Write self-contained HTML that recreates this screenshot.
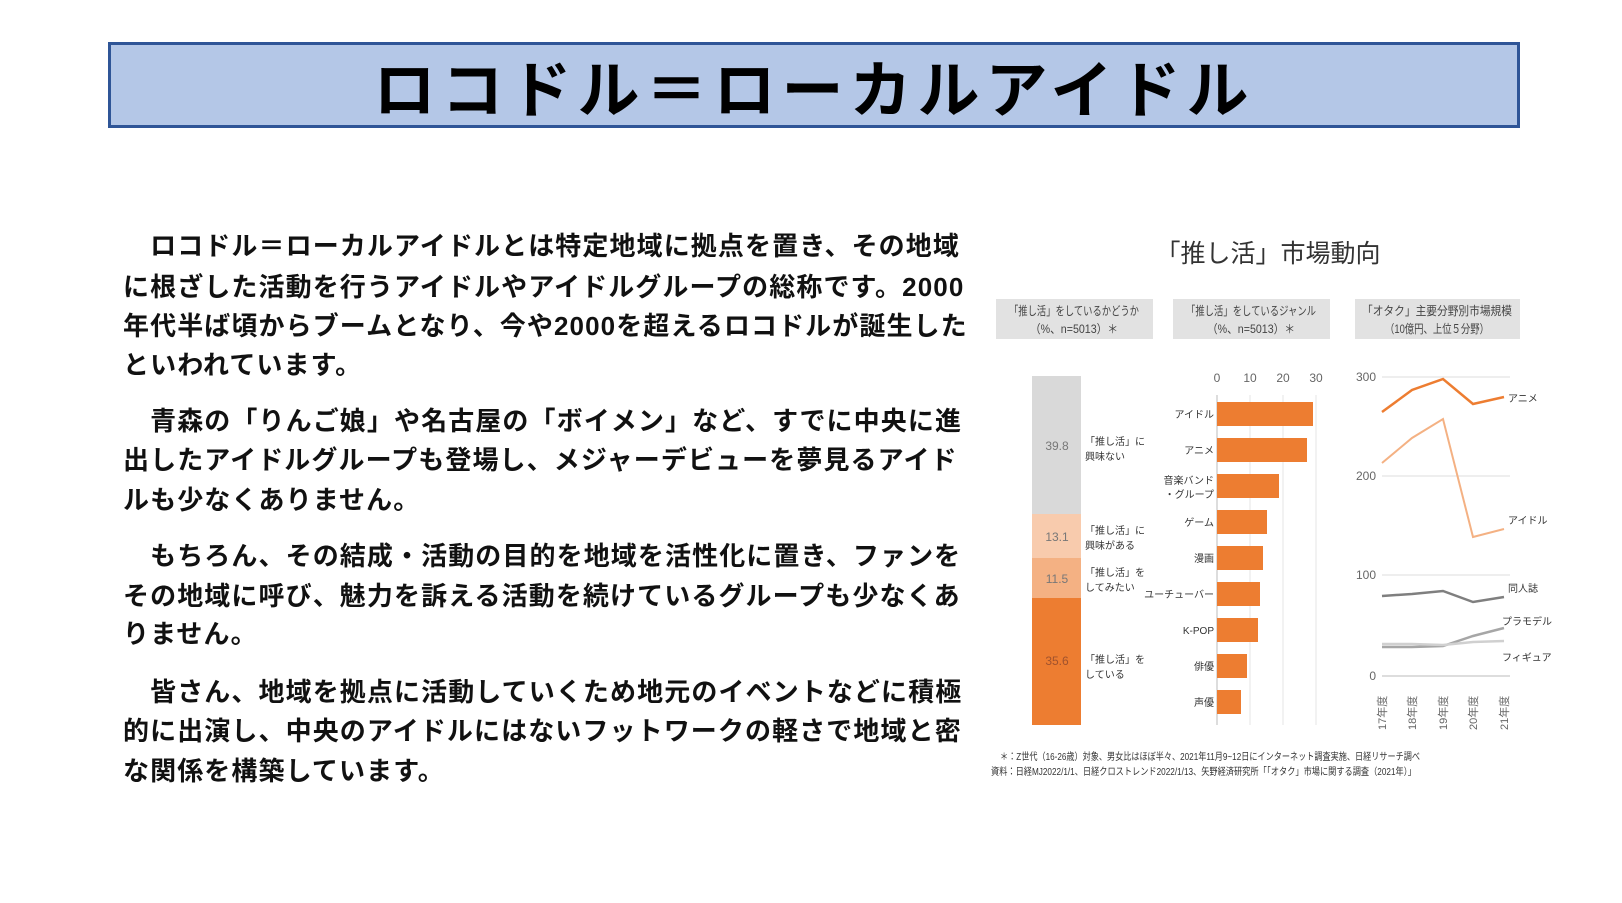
<!DOCTYPE html>
<html><head><meta charset="utf-8"><style>
body{margin:0;width:1622px;height:903px;background:#fff;overflow:hidden;position:relative;font-family:"Liberation Sans","Noto Sans CJK JP",sans-serif}
.tb{position:absolute;left:108px;top:42px;width:1412px;height:86px;background:#b4c7e7;border:3px solid #2f5597;box-sizing:border-box;display:flex;align-items:center;justify-content:center;font-size:62px;font-weight:bold;letter-spacing:6px;color:#000}
.ln{position:absolute;left:123px;font-size:26px;font-weight:bold;letter-spacing:1.1px;white-space:nowrap;line-height:30px;color:#111}
svg{position:absolute;left:0;top:0}
</style></head><body>
<div class="tb">ロコドル＝ローカルアイドル</div>
<div class="ln" style="top:231px">　ロコドル＝ローカルアイドルとは特定地域に拠点を置き、その地域</div>
<div class="ln" style="top:272px">に根ざした活動を行うアイドルやアイドルグループの総称です。2000</div>
<div class="ln" style="top:311px">年代半ば頃からブームとなり、今や2000を超えるロコドルが誕生した</div>
<div class="ln" style="top:350px">といわれています。</div>
<div class="ln" style="top:406px">　青森の「りんご娘」や名古屋の「ボイメン」など、すでに中央に進</div>
<div class="ln" style="top:445px">出したアイドルグループも登場し、メジャーデビューを夢見るアイド</div>
<div class="ln" style="top:485px">ルも少なくありません。</div>
<div class="ln" style="top:541px">　もちろん、その結成・活動の目的を地域を活性化に置き、ファンを</div>
<div class="ln" style="top:581px">その地域に呼び、魅力を訴える活動を続けているグループも少なくあ</div>
<div class="ln" style="top:619px">りません。</div>
<div class="ln" style="top:677px">　皆さん、地域を拠点に活動していくため地元のイベントなどに積極</div>
<div class="ln" style="top:716px">的に出演し、中央のアイドルにはないフットワークの軽さで地域と密</div>
<div class="ln" style="top:756px">な関係を構築しています。</div>
<svg width="1622" height="903" font-family="Liberation Sans, Noto Sans CJK JP, sans-serif">
<text x="1268" y="262" font-size="25" text-anchor="middle" fill="#333">「推し活」市場動向</text>
<rect x="996" y="299" width="157" height="40" fill="#e2e2e2"/>
<rect x="1173" y="299" width="157" height="40" fill="#e2e2e2"/>
<rect x="1355" y="299" width="165" height="40" fill="#e2e2e2"/>
<g font-size="12" fill="#444" text-anchor="middle">
<text x="1074" y="315" textLength="130" lengthAdjust="spacingAndGlyphs">「推し活」をしているかどうか</text><text x="1074" y="333" textLength="88" lengthAdjust="spacingAndGlyphs">（%、n=5013）＊</text>
<text x="1251" y="315" textLength="130" lengthAdjust="spacingAndGlyphs">「推し活」をしているジャンル</text><text x="1251" y="333" textLength="88" lengthAdjust="spacingAndGlyphs">（%、n=5013）＊</text>
<text x="1437" y="315" textLength="150" lengthAdjust="spacingAndGlyphs">「オタク」主要分野別市場規模</text><text x="1437" y="333" textLength="104" lengthAdjust="spacingAndGlyphs">（10億円、上位５分野）</text>
</g>
<rect x="1032" y="376" width="49" height="138" fill="#d9d9d9"/>
<rect x="1032" y="514" width="49" height="44" fill="#f8cbad"/>
<rect x="1032" y="558" width="49" height="40" fill="#f4b183"/>
<rect x="1032" y="598" width="49" height="127" fill="#ed7d31"/>
<g font-size="12" fill="#777" text-anchor="middle">
<text x="1057" y="450">39.8</text><text x="1057" y="541">13.1</text><text x="1057" y="583">11.5</text><text x="1057" y="665" fill="#a0522d">35.6</text>
</g>
<g font-size="10" fill="#333">
<text x="1085" y="445">「推し活」に</text><text x="1085" y="460">興味ない</text>
<text x="1085" y="534">「推し活」に</text><text x="1085" y="549">興味がある</text>
<text x="1085" y="576">「推し活」を</text><text x="1085" y="591">してみたい</text>
<text x="1085" y="663">「推し活」を</text><text x="1085" y="678">している</text>
</g>
<g stroke="#e6e6e6"><line x1="1250" y1="395" x2="1250" y2="725"/><line x1="1283" y1="395" x2="1283" y2="725"/><line x1="1316" y1="395" x2="1316" y2="725"/></g>
<line x1="1217" y1="395" x2="1217" y2="725" stroke="#bbb"/>
<g font-size="12" fill="#666" text-anchor="middle"><text x="1217" y="382">0</text><text x="1250" y="382">10</text><text x="1283" y="382">20</text><text x="1316" y="382">30</text></g>
<g fill="#ed7d31">
<rect x="1217" y="402" width="96" height="24"/><rect x="1217" y="438" width="90" height="24"/>
<rect x="1217" y="474" width="62" height="24"/><rect x="1217" y="510" width="50" height="24"/>
<rect x="1217" y="546" width="46" height="24"/><rect x="1217" y="582" width="43" height="24"/>
<rect x="1217" y="618" width="41" height="24"/><rect x="1217" y="654" width="30" height="24"/>
<rect x="1217" y="690" width="24" height="24"/>
</g>
<g font-size="10" fill="#333" text-anchor="end">
<text x="1214" y="418">アイドル</text><text x="1214" y="454">アニメ</text>
<text x="1214" y="484">音楽バンド</text><text x="1214" y="498">・グループ</text>
<text x="1214" y="526">ゲーム</text><text x="1214" y="562">漫画</text><text x="1214" y="598">ユーチューバー</text>
<text x="1214" y="634">K-POP</text><text x="1214" y="670">俳優</text><text x="1214" y="706">声優</text>
</g>
<g stroke="#ddd"><line x1="1382" y1="377" x2="1510" y2="377"/><line x1="1382" y1="476" x2="1510" y2="476"/><line x1="1382" y1="575" x2="1510" y2="575"/></g>
<line x1="1382" y1="676" x2="1510" y2="676" stroke="#bbb"/>
<g font-size="12" fill="#666" text-anchor="end"><text x="1376" y="381">300</text><text x="1376" y="480">200</text><text x="1376" y="579">100</text><text x="1376" y="680">0</text></g>
<g fill="none" stroke-width="2.5">
<polyline stroke="#ed7d31" points="1382,412 1412,390 1443,379 1473,404 1504,397"/>
<polyline stroke="#f4b183" stroke-width="2" points="1382,463 1412,438 1443,419 1473,537 1504,529"/>
<polyline stroke="#7f7f7f" points="1382,596 1412,594 1443,591 1473,602 1504,597"/>
<polyline stroke="#a6a6a6" points="1382,647 1412,647 1443,646 1473,636 1504,628"/>
<polyline stroke="#d0d0d0" points="1382,644 1412,644 1443,645 1473,642 1504,641"/>
</g>
<g font-size="10" fill="#333">
<text x="1508" y="402">アニメ</text><text x="1508" y="524">アイドル</text><text x="1508" y="592">同人誌</text>
<text x="1502" y="625">プラモデル</text><text x="1502" y="661">フィギュア</text>
</g>
<g font-size="11" fill="#666">
<text transform="translate(1386,730) rotate(-90)">17年度</text>
<text transform="translate(1416,730) rotate(-90)">18年度</text>
<text transform="translate(1447,730) rotate(-90)">19年度</text>
<text transform="translate(1477,730) rotate(-90)">20年度</text>
<text transform="translate(1508,730) rotate(-90)">21年度</text>
</g>
<text x="1000" y="760" font-size="10" fill="#333" textLength="420" lengthAdjust="spacingAndGlyphs">＊：Z世代（16-26歳）対象、男女比はほぼ半々、2021年11月9~12日にインターネット調査実施、日経リサーチ調べ</text>
<text x="991" y="775" font-size="10" fill="#333" textLength="425" lengthAdjust="spacingAndGlyphs">資料：日経MJ2022/1/1、日経クロストレンド2022/1/13、矢野経済研究所「「オタク」市場に関する調査（2021年）」</text>
</svg>
</body></html>
